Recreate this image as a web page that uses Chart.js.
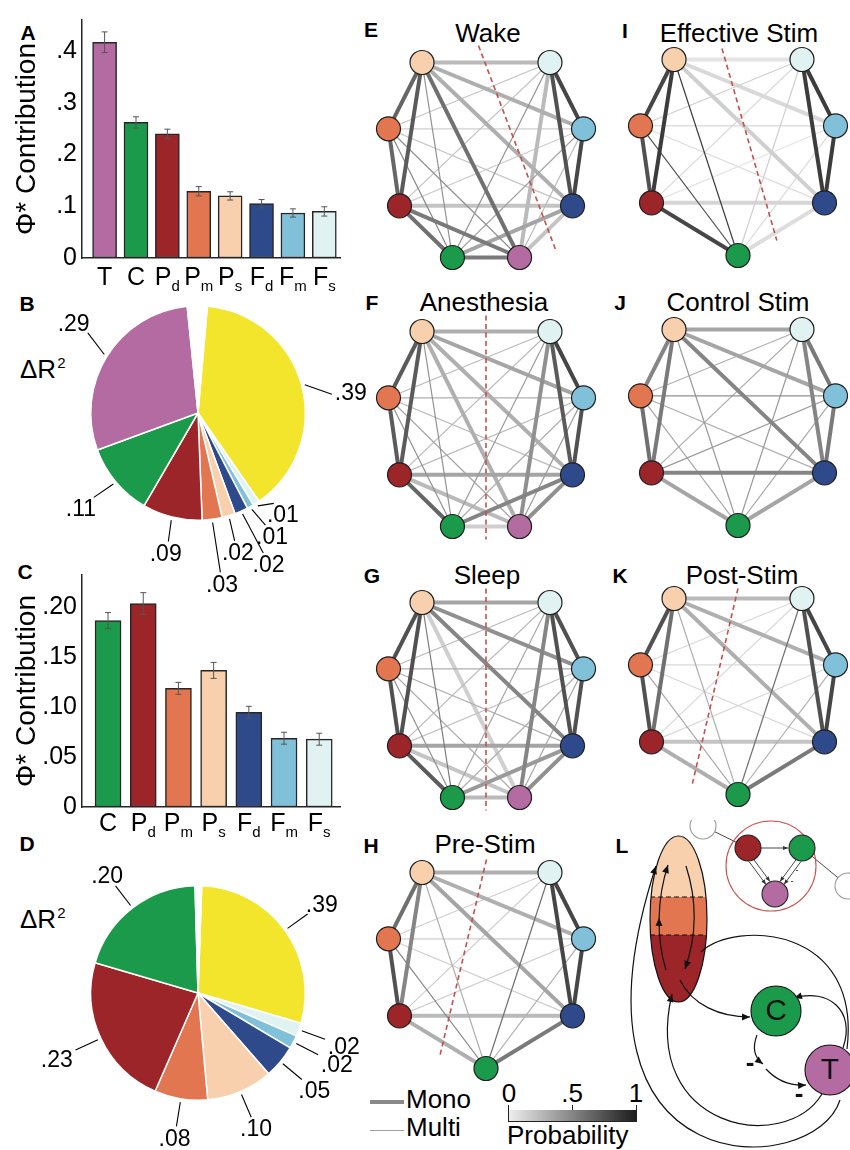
<!DOCTYPE html>
<html>
<head>
<meta charset="utf-8">
<title>Phi* contribution and network panels</title>
<script src="https://cdn.jsdelivr.net/npm/chart.js@4.4.0/dist/chart.umd.js"></script>
<style>
  body { margin: 0; background: #fff; }
  #fig { position: relative; width: 850px; height: 1150px; overflow: hidden; background: #fff;
         font-family: "Liberation Sans", Arial, Helvetica, sans-serif; color: #000; }
  #fig canvas { position: absolute; }
  .letter { position: absolute; font-weight: bold; font-size: 21px; line-height: 21px; transform: translate(-50%, -50%); }
  .title { position: absolute; font-size: 26px; line-height: 26px; white-space: nowrap; transform: translate(-50%, -50%); }
  .txt { position: absolute; font-size: 26px; line-height: 26px; white-space: nowrap; }
  .ctr { transform: translateX(-50%); }
  .sup { font-size: 15px; position: relative; top: -10px; margin-left: 1px; }
  .swatch { position: absolute; background: #8a8a8a; }
  #cbar { position: absolute; left: 508px; top: 1110px; width: 129px; height: 12px; box-sizing: border-box; border: 1px solid #222; border-top: none; }
  .tick { position: absolute; width: 1px; height: 5px; background: #222; }
</style>
</head>
<body>
<div id="fig">
  <div class="letter" style="left:28px;top:32px">A</div>
  <div class="letter" style="left:27px;top:303px">B</div>
  <div class="letter" style="left:25px;top:571px">C</div>
  <div class="letter" style="left:27px;top:843px">D</div>
  <div class="letter" style="left:371px;top:29px">E</div>
  <div class="letter" style="left:372px;top:302px">F</div>
  <div class="letter" style="left:372px;top:575px">G</div>
  <div class="letter" style="left:371px;top:845px">H</div>
  <div class="letter" style="left:625px;top:30px">I</div>
  <div class="letter" style="left:620px;top:302px">J</div>
  <div class="letter" style="left:620px;top:575px">K</div>
  <div class="letter" style="left:622px;top:845px">L</div>

  <div class="title" style="left:488px;top:33px">Wake</div>
  <div class="title" style="left:739px;top:33px">Effective Stim</div>
  <div class="title" style="left:484px;top:302px">Anesthesia</div>
  <div class="title" style="left:738px;top:302px">Control Stim</div>
  <div class="title" style="left:487px;top:575px">Sleep</div>
  <div class="title" style="left:742px;top:575px">Post-Stim</div>
  <div class="title" style="left:485px;top:844px">Pre-Stim</div>

  <div class="txt" style="left:20px;top:356px">ΔR<span class="sup">2</span></div>
  <div class="txt" style="left:20px;top:906px">ΔR<span class="sup">2</span></div>

  <div class="swatch" style="left:370px;top:1100px;width:34px;height:4px"></div>
  <div class="txt" style="left:406px;top:1086px">Mono</div>
  <div class="swatch" style="left:370px;top:1130px;width:34px;height:1px;background:#a0a0a0"></div>
  <div class="txt" style="left:406px;top:1114px">Multi</div>

  <div id="cbar"></div>
  <div class="tick" style="left:508px;top:1105px"></div>
  <div class="tick" style="left:572px;top:1105px"></div>
  <div class="tick" style="left:636px;top:1105px"></div>
  <div class="txt ctr" style="left:509px;top:1080px">0</div>
  <div class="txt ctr" style="left:572px;top:1080px">.5</div>
  <div class="txt ctr" style="left:636px;top:1080px">1</div>
  <div class="txt" style="left:507px;top:1122px">Probability</div>
</div>

<script>
const FONT = '"Liberation Sans", Arial, Helvetica, sans-serif';

// region colours
const REGION_COLORS = {
    T: '#b46ba1', C: '#1a9a4a', P_d: '#9b2528', P_m: '#e27650', P_s: '#f8d0ae',
    F_d: '#2f4a8b', F_m: '#80c0d8', F_s: '#e1f2f2', Shared: '#f2e52c', Rest: '#ffffff'
};

// Panel A - Phi* contribution, all regions
const A_LABELS = ['T', 'C', 'P_d', 'P_m', 'P_s', 'F_d', 'F_m', 'F_s'];
const A_VALUES = [0.417, 0.262, 0.240, 0.129, 0.120, 0.105, 0.087, 0.090];
const A_ERRORS = [0.020, 0.011, 0.009, 0.009, 0.008, 0.008, 0.008, 0.009];
const A_TICKS = [0, 0.1, 0.2, 0.3, 0.4];

// Panel B - Delta R^2 shares
const B_NAMES = ['Shared', 'F_s', 'F_m', 'F_d', 'P_s', 'P_m', 'P_d', 'C', 'T', 'Rest'];
const B_VALUES = [0.39, 0.01, 0.01, 0.02, 0.02, 0.03, 0.09, 0.11, 0.29, 0.03];
const B_TEXT = ['.39', '.01', '.01', '.02', '.02', '.03', '.09', '.11', '.29', ''];

// Panel C - Phi* contribution without thalamus
const C_LABELS = ['C', 'P_d', 'P_m', 'P_s', 'F_d', 'F_m', 'F_s'];
const C_VALUES = [0.187, 0.204, 0.119, 0.137, 0.095, 0.069, 0.068];
const C_ERRORS = [0.008, 0.011, 0.006, 0.008, 0.006, 0.006, 0.006];
const C_TICKS = [0, 0.05, 0.10, 0.15, 0.20];

// Panel D - Delta R^2 shares (slice sizes as drawn, label text as printed)
const D_NAMES = ['Shared', 'F_s', 'F_m', 'F_d', 'P_s', 'P_m', 'P_d', 'C', 'Rest'];
const D_VALUES = [0.29, 0.02, 0.02, 0.05, 0.10, 0.08, 0.23, 0.20, 0.01];
const D_TEXT = ['.39', '.02', '.02', '.05', '.10', '.08', '.23', '.20', ''];

// Networks E-K: edge probability per node pair (P_s,F_s,P_m,F_m,P_d,F_d,C,T)
const NODE_NAMES = ['P_s', 'F_s', 'P_m', 'F_m', 'P_d', 'F_d', 'C', 'T'];
const MONO = [1,1,1,1,1,0,1, 0,1,0,1,0,1, 0,1,0,0,0, 0,1,0,0, 1,1,1, 1,1, 1];
const P_WAKE    = [0.25,0.65,0.30,0.70,0.30,0.45,0.60, 0.20,0.80,0.20,0.75,0.45,0.25, 0.15,0.65,0.20,0.50,0.45, 0.15,0.80,0.35,0.25, 0.20,0.60,0.55, 0.35,0.20, 0.55];
const P_ANES    = [0.30,0.70,0.35,0.70,0.30,0.45,0.30, 0.25,0.80,0.25,0.70,0.40,0.45, 0.30,0.70,0.25,0.45,0.35, 0.25,0.75,0.30,0.40, 0.35,0.65,0.25, 0.50,0.45, 0.15];
const P_SLEEP   = [0.35,0.75,0.45,0.75,0.50,0.55,0.15, 0.25,0.75,0.25,0.75,0.35,0.50, 0.30,0.75,0.30,0.45,0.30, 0.20,0.75,0.30,0.35, 0.35,0.70,0.20, 0.40,0.45, 0.25];
const P_PRE     = [0.30,0.60,0.30,0.50,0.35,0.30,null, 0.15,0.80,0.15,0.80,0.60,null, 0.15,0.75,0.15,0.50,null, 0.15,0.80,0.30,null, 0.25,0.30,null, 0.55,null, null];
const P_EFFECT  = [0.05,0.80,0.10,0.85,0.15,0.85,null, 0.15,0.85,0.10,0.85,0.15,null, 0.10,0.75,0.08,0.75,null, 0.05,0.85,0.10,null, 0.12,0.80,null, 0.08,null, null];
const P_CONTROL = [0.35,0.50,0.35,0.55,0.50,0.40,null, 0.30,0.55,0.30,0.50,0.40,null, 0.45,0.60,0.30,0.35,null, 0.40,0.55,0.35,null, 0.50,0.35,null, 0.35,null, null];
const P_POST    = [0.25,0.75,0.30,0.60,0.30,0.30,null, 0.10,0.80,0.10,0.75,0.60,null, 0.10,0.75,0.10,0.35,null, 0.10,0.80,0.30,null, 0.20,0.30,null, 0.55,null, null];

// ---- layout (not data) ----
const NODE_X8 = [-0.656, 0.656, -1, 1, -0.887, 0.887, -0.344, 0.344];
const NODE_Y8 = [-1, -1, -0.32, -0.32, 0.47, 0.47, 1, 1];
const NODE_X7 = [-0.656, 0.656, -1, 1, -0.887, 0.887, 0];
const NODE_Y7 = [-1, -1, -0.32, -0.32, 0.47, 0.47, 1.01];
const CUT_WAKE = [-0.077, -1.174, 0.713, 0.918];
const CUT_ANES = [0, -1.164, 0, 1.133];
const CUT_SLEEP = [0, -1.144, 0, 1.133];
const CUT_PRE = [0.005, -1.133, -0.477, 0.897];
const CUT_EFFECT = [-0.164, -1.113, 0.398, 0.857];
const CUT_POST = [0, -1.103, -0.472, 0.918];
const B_LABEL_DEG = [82, 140, 149, 155, 164, 172, 193, 231, 306, null];
const B_LEADER = [1.26, 1.1, 1.22, 1.44, 1.24, 1.5, 1.23, 1.25, 1.27, 1];

Chart.defaults.font.family = FONT;
Chart.defaults.color = '#000';
Chart.defaults.animation = false;
Chart.defaults.events = [];
Chart.defaults.plugins.legend.display = false;
Chart.defaults.plugins.tooltip.enabled = false;

const fig = document.getElementById('fig');

function addCanvas(left, top, w, h) {
    const c = document.createElement('canvas');
    c.width = w; c.height = h;
    c.style.left = left + 'px'; c.style.top = top + 'px';
    c.style.width = w + 'px'; c.style.height = h + 'px';
    fig.appendChild(c);
    return c;
}

function gray(p) {
    const v = Math.round(238 - 210 * p);
    return `rgb(${v},${v},${v})`;
}

document.getElementById('cbar').style.background = `linear-gradient(to right, ${gray(0)}, ${gray(1)})`;

// Error bars on top of the bars
const errorBars = {
    id: 'errorBars',
    afterDatasetsDraw(chart, args, opts) {
        const { ctx, scales: { y } } = chart;
        ctx.save();
        ctx.strokeStyle = '#555';
        ctx.lineWidth = 1;
        chart.getDatasetMeta(0).data.forEach((bar, i) => {
            const v = opts.values[i], e = opts.errors[i];
            const yt = y.getPixelForValue(v + e), yb = y.getPixelForValue(v - e);
            ctx.beginPath();
            ctx.moveTo(bar.x, yt); ctx.lineTo(bar.x, yb);
            ctx.moveTo(bar.x - 3, yt); ctx.lineTo(bar.x + 3, yt);
            ctx.moveTo(bar.x - 3, yb); ctx.lineTo(bar.x + 3, yb);
            ctx.stroke();
        });
        ctx.restore();
    }
};

// Category labels with subscripts (P_d -> P with small d)
const subLabels = {
    id: 'subLabels',
    afterDraw(chart, args, opts) {
        const { ctx, scales: { x } } = chart;
        ctx.save();
        ctx.fillStyle = '#000';
        ctx.textBaseline = 'alphabetic';
        ctx.textAlign = 'left';
        opts.labels.forEach((lab, i) => {
            const [main, sub] = lab.split('_');
            ctx.font = `25px ${FONT}`;
            const wm = ctx.measureText(main).width;
            ctx.font = `15px ${FONT}`;
            const ws = sub ? ctx.measureText(sub).width : 0;
            const left = x.getPixelForValue(i) - (wm + ws) / 2;
            const base = x.top + opts.offset;
            ctx.font = `25px ${FONT}`;
            ctx.fillText(main, left, base);
            if (sub) {
                ctx.font = `15px ${FONT}`;
                ctx.fillText(sub, left + wm, base + 6);
            }
        });
        ctx.restore();
    }
};

function barChart(canvas, labels, values, errors, ticks, cfg) {
    return new Chart(canvas, {
        type: 'bar',
        data: {
            datasets: [{
                data: values.map((v, i) => ({ x: i, y: v })),
                backgroundColor: labels.map(l => REGION_COLORS[l]),
                borderColor: '#262626',
                borderWidth: 1.5,
                borderSkipped: false,
                barThickness: cfg.barWidth
            }]
        },
        options: {
            responsive: false,
            layout: { padding: { top: cfg.padTop, right: 5, left: 0, bottom: 0 } },
            plugins: {
                errorBars: { values, errors },
                subLabels: { labels, offset: cfg.labelOffset }
            },
            scales: {
                x: {
                    type: 'linear',
                    offset: false,
                    min: cfg.xMin,
                    max: cfg.xMax,
                    grid: { display: false, drawTicks: false },
                    border: { display: true, color: '#262626', width: 1.5 },
                    ticks: { callback: () => '' },
                    afterBuildTicks: s => { s.ticks = labels.map((l, i) => ({ value: i })); },
                    afterFit: s => { s.height = cfg.xAxisHeight; }
                },
                y: {
                    min: 0,
                    max: cfg.yMax,
                    grid: { display: false, drawTicks: false },
                    border: { display: true, color: '#262626', width: 1.5 },
                    ticks: { font: { size: 25 }, color: '#000', padding: 5, callback: cfg.fmt },
                    afterBuildTicks: s => { s.ticks = ticks.map(v => ({ value: v })); },
                    afterFit: s => { s.width = 82; },
                    title: {
                        display: true,
                        text: 'Φ* Contribution',
                        color: '#000',
                        font: { size: 28 },
                        padding: { top: 10, bottom: 0 }
                    }
                }
            }
        },
        plugins: [errorBars, subLabels]
    });
}

// Pie labels with leader lines
const pieLabels = {
    id: 'pieLabels',
    afterDraw(chart, args, opts) {
        const { ctx } = chart;
        ctx.save();
        ctx.font = `23px ${FONT}`;
        ctx.fillStyle = '#000';
        ctx.strokeStyle = '#000';
        ctx.lineWidth = 1.1;
        chart.getDatasetMeta(0).data.forEach((arc, i) => {
            const text = opts.texts[i];
            if (!text) return;
            const { x, y, startAngle, endAngle, outerRadius: r } = arc;
            const mid = (startAngle + endAngle) / 2;
            const deg = opts.angles ? opts.angles[i] : null;
            const a = deg == null ? mid : (deg - 90) * Math.PI / 180;
            const le = opts.leader ? opts.leader[i] : 1.26;
            const x0 = x + 1.03 * r * Math.cos(mid), y0 = y + 1.03 * r * Math.sin(mid);
            const x1 = x + le * r * Math.cos(a), y1 = y + le * r * Math.sin(a);
            ctx.beginPath(); ctx.moveTo(x0, y0); ctx.lineTo(x1, y1); ctx.stroke();
            const w = ctx.measureText(text).width, h = 17;
            const ux = Math.cos(a), uy = Math.sin(a);
            const t = Math.min(Math.abs(ux) > 1e-3 ? w / 2 / Math.abs(ux) : 1e9,
                               Math.abs(uy) > 1e-3 ? h / 2 / Math.abs(uy) : 1e9) + 3;
            ctx.textAlign = 'center';
            ctx.textBaseline = 'alphabetic';
            ctx.fillText(text, x1 + ux * t, y1 + uy * t + 8);
        });
        ctx.restore();
    }
};

function pieChart(canvas, names, values, texts, rotation, padding, angles, leader) {
    return new Chart(canvas, {
        type: 'pie',
        data: {
            labels: names,
            datasets: [{
                data: values,
                backgroundColor: names.map(n => REGION_COLORS[n]),
                borderColor: '#ffffff',
                borderWidth: 1.5
            }]
        },
        options: {
            responsive: false,
            rotation,
            layout: { padding, autoPadding: false },
            plugins: { pieLabels: { texts, angles, leader } }
        },
        plugins: [pieLabels]
    });
}

// Network graph: nodes, mono/multi edges, partition line
function networkChart(canvas, probs, nodeCount, cut) {
    const xs = nodeCount === 8 ? NODE_X8 : NODE_X7;
    const ys = nodeCount === 8 ? NODE_Y8 : NODE_Y7;
    const names = NODE_NAMES.slice(0, nodeCount);
    const datasets = [{
        type: 'scatter',
        data: names.map((n, i) => ({ x: xs[i], y: ys[i] })),
        pointRadius: 12,
        pointBackgroundColor: names.map(n => REGION_COLORS[n]),
        pointBorderColor: '#1e1e1e',
        pointBorderWidth: 1.2,
        order: 0
    }];
    if (cut) {
        datasets.push({
            type: 'line',
            data: [{ x: cut[0], y: cut[1] }, { x: cut[2], y: cut[3] }],
            borderColor: '#c4504a',
            borderWidth: 1.6,
            borderDash: [5, 3.5],
            pointRadius: 0,
            order: 1
        });
    }
    let k = 0;
    for (let i = 0; i < NODE_NAMES.length; i++) {
        for (let j = i + 1; j < NODE_NAMES.length; j++, k++) {
            const p = probs[k];
            if (p == null || i >= nodeCount || j >= nodeCount) continue;
            datasets.push({
                type: 'line',
                data: [{ x: xs[i], y: ys[i] }, { x: xs[j], y: ys[j] }],
                borderColor: gray(p),
                borderWidth: MONO[k] ? 4 : 1.2,
                pointRadius: 0,
                order: 2 + (1 - p)
            });
        }
    }
    return new Chart(canvas, {
        type: 'scatter',
        data: { datasets },
        options: {
            responsive: false,
            layout: { padding: 0, autoPadding: false },
            scales: {
                x: { type: 'linear', display: false, min: -1.333, max: 1.333 },
                y: { type: 'linear', display: false, min: -1.333, max: 1.333, reverse: true }
            }
        }
    });
}

// ---- Panel L schematic (layout in panel pixels) ----
const L_ELLIPSE = { x: 78.5, y: 99, rx: 28.5, ry: 83, cut1: 77, cut2: 115 };
const L_CURVES = [
    { p: [[66, 150], [56, 118], [57, 78], [68, 45]], head: true, midHead: true },
    { p: [[86, 46], [97, 80], [97, 115], [85, 149]], head: true },
    { p: [[80, 160], [92, 185], [120, 197], [150, 197]], head: true },
    { p: [[101, 132], [135, 100], [262, 105], [247, 229]], head: false },
    { p: [[243, 228], [256, 190], [228, 168], [194, 178]], head: true },
    { p: [[157, 215], [152, 228], [155, 238], [163, 244]], head: true },
    { p: [[166, 249], [178, 262], [192, 266], [206, 265]], head: true },
    { p: [[222, 274], [185, 335], [40, 310], [72, 174]], head: true },
    { p: [[240, 280], [215, 360], [-50, 370], [56, 46]], head: true }
];
const L_LINES = [
    { a: [103, 6], b: [148, 28], head: false },
    { a: [161, 28], b: [188, 28], head: true },
    { a: [202, 28], b: [248, 66], head: false },
    { a: [151, 40], b: [168, 63], head: true, dbl: true },
    { a: [199, 40], b: [182, 63], head: true, dbl: true }
];
const L_POINTS_X = [171, 103, 248, 148, 202, 175, 176, 230];
const L_POINTS_Y = [46, 6, 66, 28, 28, 74, 191, 250];
const L_POINTS_R = [45, 13, 13, 13, 13, 13, 25, 25];
const L_POINTS_FILL = ['rgba(0,0,0,0)', '#fff', '#fff', REGION_COLORS.P_d, REGION_COLORS.C, REGION_COLORS.T, REGION_COLORS.C, REGION_COLORS.T];
const L_POINTS_EDGE = ['#c9524c', '#9a9a9a', '#9a9a9a', '#222', '#222', '#222', '#111', '#111'];

function arrowHead(ctx, x, y, ang, len, wid) {
    ctx.beginPath();
    ctx.moveTo(x, y);
    ctx.lineTo(x - len * Math.cos(ang) + wid * Math.sin(ang), y - len * Math.sin(ang) - wid * Math.cos(ang));
    ctx.lineTo(x - len * Math.cos(ang) - wid * Math.sin(ang), y - len * Math.sin(ang) + wid * Math.cos(ang));
    ctx.closePath();
    ctx.fill();
}

const lSchematic = {
    id: 'lSchematic',
    beforeDatasetsDraw(chart) {
        const { ctx, scales: { x, y } } = chart;
        const P = (q) => [x.getPixelForValue(q[0]), y.getPixelForValue(q[1])];
        const e = L_ELLIPSE;
        const [ex, ey] = P([e.x, e.y]);
        const yc1 = y.getPixelForValue(e.cut1), yc2 = y.getPixelForValue(e.cut2);
        ctx.save();
        ctx.beginPath();
        ctx.ellipse(ex, ey, e.rx, e.ry, 0, 0, Math.PI * 2);
        ctx.clip();
        ctx.fillStyle = REGION_COLORS.P_s; ctx.fillRect(ex - e.rx, ey - e.ry, 2 * e.rx, yc1 - (ey - e.ry));
        ctx.fillStyle = REGION_COLORS.P_m; ctx.fillRect(ex - e.rx, yc1, 2 * e.rx, yc2 - yc1);
        ctx.fillStyle = REGION_COLORS.P_d; ctx.fillRect(ex - e.rx, yc2, 2 * e.rx, ey + e.ry - yc2);
        ctx.strokeStyle = '#111'; ctx.lineWidth = 1; ctx.setLineDash([5, 3]);
        ctx.beginPath();
        ctx.moveTo(ex - e.rx, yc1); ctx.lineTo(ex + e.rx, yc1);
        ctx.moveTo(ex - e.rx, yc2); ctx.lineTo(ex + e.rx, yc2);
        ctx.stroke();
        ctx.restore();
        ctx.save();
        ctx.strokeStyle = '#111'; ctx.lineWidth = 1.2;
        ctx.beginPath(); ctx.ellipse(ex, ey, e.rx, e.ry, 0, 0, Math.PI * 2); ctx.stroke();

        ctx.fillStyle = '#111';
        L_CURVES.forEach(c => {
            const q = c.p.map(P);
            ctx.beginPath();
            ctx.moveTo(q[0][0], q[0][1]);
            ctx.bezierCurveTo(q[1][0], q[1][1], q[2][0], q[2][1], q[3][0], q[3][1]);
            ctx.stroke();
            if (c.head) {
                const ang = Math.atan2(q[3][1] - q[2][1], q[3][0] - q[2][0]);
                arrowHead(ctx, q[3][0], q[3][1], ang, 8, 3.5);
            }
            if (c.midHead) {
                const t = 0.5, u = 1 - t;
                const px = u*u*u*q[0][0] + 3*u*u*t*q[1][0] + 3*u*t*t*q[2][0] + t*t*t*q[3][0];
                const py = u*u*u*q[0][1] + 3*u*u*t*q[1][1] + 3*u*t*t*q[2][1] + t*t*t*q[3][1];
                const dx = 3*u*u*(q[1][0]-q[0][0]) + 6*u*t*(q[2][0]-q[1][0]) + 3*t*t*(q[3][0]-q[2][0]);
                const dy = 3*u*u*(q[1][1]-q[0][1]) + 6*u*t*(q[2][1]-q[1][1]) + 3*t*t*(q[3][1]-q[2][1]);
                arrowHead(ctx, px, py, Math.atan2(dy, dx), 8, 3.5);
            }
        });

        ctx.lineWidth = 0.9;
        ctx.strokeStyle = '#333';
        ctx.fillStyle = '#333';
        L_LINES.forEach(l => {
            const [ax, ay] = P(l.a), [bx, by] = P(l.b);
            const ang = Math.atan2(by - ay, bx - ax);
            const offs = l.dbl ? [-2.5, 2.5] : [0];
            offs.forEach(o => {
                const ox = -Math.sin(ang) * o, oy = Math.cos(ang) * o;
                ctx.beginPath(); ctx.moveTo(ax + ox, ay + oy); ctx.lineTo(bx + ox, by + oy); ctx.stroke();
                if (l.head) arrowHead(ctx, bx + ox, by + oy, ang, 5, 2);
            });
        });
        ctx.restore();
    },
    afterDatasetsDraw(chart) {
        const { ctx, scales: { x, y } } = chart;
        ctx.save();
        ctx.fillStyle = '#111';
        ctx.textAlign = 'center';
        ctx.textBaseline = 'middle';
        ctx.font = `30px ${FONT}`;
        ctx.fillText('C', x.getPixelForValue(L_POINTS_X[6]), y.getPixelForValue(L_POINTS_Y[6]) + 1);
        ctx.fillText('T', x.getPixelForValue(L_POINTS_X[7]), y.getPixelForValue(L_POINTS_Y[7]) + 1);
        ctx.font = `bold 26px ${FONT}`;
        ctx.fillText('-', x.getPixelForValue(150), y.getPixelForValue(244));
        ctx.fillText('-', x.getPixelForValue(199), y.getPixelForValue(275));
        ctx.font = `9px ${FONT}`;
        ctx.fillText('-', x.getPixelForValue(197), y.getPixelForValue(51));
        ctx.fillText('-', x.getPixelForValue(192), y.getPixelForValue(62));
        ctx.restore();
    }
};

// ---- build ----
barChart(addCanvas(0, 0, 345, 292), A_LABELS, A_VALUES, A_ERRORS, A_TICKS, {
    barWidth: 24, padTop: 8, xMin: -0.72, xMax: 7.5, yMax: 0.46, xAxisHeight: 34, labelOffset: 27,
    fmt: v => v === 0 ? '0' : '.' + Math.round(v * 10)
});

barChart(addCanvas(0, 555, 345, 295), C_LABELS, C_VALUES, C_ERRORS, C_TICKS, {
    barWidth: 26, padTop: 10, xMin: -0.74, xMax: 6.59, yMax: 0.2327, xAxisHeight: 43, labelOffset: 24,
    fmt: v => v === 0 ? '0' : '.' + String(Math.round(v * 100)).padStart(2, '0')
});

pieChart(addCanvas(0, 280, 370, 320), B_NAMES, B_VALUES, B_TEXT, 5,
    { left: 90, right: 64, top: 25, bottom: 79 }, B_LABEL_DEG, B_LEADER);

pieChart(addCanvas(0, 840, 370, 310), D_NAMES, D_VALUES, D_TEXT, 2,
    { left: 90, right: 64, top: 45, bottom: 49 }, null, null);

networkChart(addCanvas(356, 30, 260, 260), P_WAKE, 8, CUT_WAKE);
networkChart(addCanvas(356, 299, 260, 260), P_ANES, 8, CUT_ANES);
networkChart(addCanvas(356, 570, 260, 260), P_SLEEP, 8, CUT_SLEEP);
networkChart(addCanvas(356, 840, 260, 260), P_PRE, 7, CUT_PRE);
networkChart(addCanvas(608, 27, 260, 260), P_EFFECT, 7, CUT_EFFECT);
networkChart(addCanvas(608, 297, 260, 260), P_CONTROL, 7, null);
networkChart(addCanvas(608, 566, 260, 260), P_POST, 7, CUT_POST);

new Chart(addCanvas(600, 820, 250, 330), {
    type: 'scatter',
    data: {
        datasets: [{
            data: L_POINTS_X.map((v, i) => ({ x: v, y: L_POINTS_Y[i] })),
            pointRadius: L_POINTS_R,
            pointBackgroundColor: L_POINTS_FILL,
            pointBorderColor: L_POINTS_EDGE,
            pointBorderWidth: 1.1,
            clip: false
        }]
    },
    options: {
        responsive: false,
        layout: { padding: 0, autoPadding: false },
        scales: {
            x: { type: 'linear', display: false, min: 0, max: 250 },
            y: { type: 'linear', display: false, min: 0, max: 330, reverse: true }
        }
    },
    plugins: [lSchematic]
});
</script>
</body>
</html>
